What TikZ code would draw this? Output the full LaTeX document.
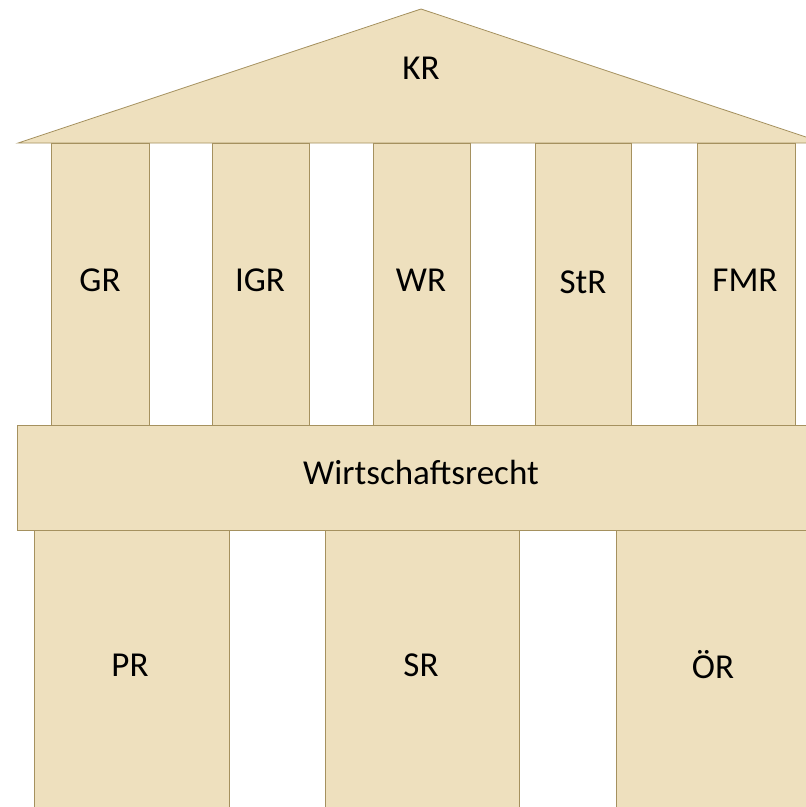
\documentclass[tikz,border=0pt]{standalone}
\usepackage{fontspec}
\setmainfont{Carlito}
\definecolor{stone}{RGB}{238,224,190}
\definecolor{edge}{RGB}{165,145,95}
\begin{document}
\begin{tikzpicture}[x=1pt,y=-1pt,
  block/.style={draw=edge, line width=0.8pt, fill=stone, inner sep=0pt, rectangle},
  lbl/.style={font=\fontsize{35}{40}\selectfont, text=black, inner sep=0pt}]
\useasboundingbox (0,0) rectangle (806,807);
\clip (0,0) rectangle (806,807);
\fill[white] (0,0) rectangle (806,807);
% roof
\draw[block] (18,143) -- (421,9) -- (824,143) -- cycle;
\node[lbl] (KR) at (421,68) {KR};
% upper columns
\node[block, minimum width=98pt, minimum height=282pt] (cGR) at (100,284) {};
\node[block, minimum width=97pt, minimum height=282pt] (cIGR) at (260.5,284) {};
\node[block, minimum width=97pt, minimum height=282pt] (cWR) at (421.5,284) {};
\node[block, minimum width=96pt, minimum height=282pt] (cStR) at (583,284) {};
\node[block, minimum width=98pt, minimum height=282pt] (cFMR) at (746,284) {};
\node[lbl] (GR) at (100,280) {GR};
\node[lbl] (IGR) at (260,280) {IGR};
\node[lbl] (WR) at (421,280) {WR};
\node[lbl] (StR) at (583,282) {StR};
\node[lbl] (FMR) at (745,280) {FMR};
% beam
\node[block, minimum width=813pt, minimum height=105pt] (beam) at (423.5,477.5) {};
\node[lbl] (WiR) at (421,472) {Wirtschaftsrecht};
% lower columns
\node[block, minimum width=195pt, minimum height=300pt] (cPR) at (131.5,680) {};
\node[block, minimum width=194pt, minimum height=300pt] (cSR) at (422,680) {};
\node[block, minimum width=195pt, minimum height=300pt] (cOR) at (713.5,680) {};
\node[lbl] (PR) at (130,665) {PR};
\node[lbl] (SR) at (421,665) {SR};
\node[lbl] (OR) at (713,665) {ÖR};
\end{tikzpicture}
\end{document}
